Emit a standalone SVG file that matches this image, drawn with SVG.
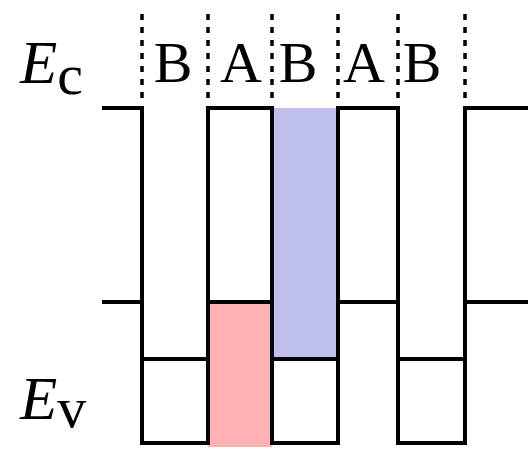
<svg xmlns="http://www.w3.org/2000/svg" width="530" height="453" viewBox="0 0 530 453">
<style>
.ln{fill:none;stroke:#000;stroke-width:4;stroke-linecap:square;stroke-linejoin:miter}
.dash{fill:none;stroke:#000;stroke-width:3.5;stroke-dasharray:6 7}
.t{font-family:"Liberation Serif",Tinos,"Nimbus Roman","Times New Roman",Times,"DejaVu Serif",serif;fill:#000}
</style>
<g id="fills">
<rect id="redwell" x="208" y="302" width="64" height="145" fill="#ffb0b0"/>
<rect id="bluewell" x="272" y="108" width="66" height="251" fill="#bfbfee"/>
</g>
<g id="dividers">
<line class="dash" x1="142" y1="14" x2="142" y2="102"/>
<line class="dash" x1="208" y1="14" x2="208" y2="102"/>
<line class="dash" x1="272" y1="14" x2="272" y2="102"/>
<line class="dash" x1="338" y1="14" x2="338" y2="102"/>
<line class="dash" x1="398" y1="14" x2="398" y2="102"/>
<line class="dash" x1="465" y1="14" x2="465" y2="102"/>
</g>
<g id="connectors">
<path class="ln" d="M104 108H142M208 108H272M338 108H398M465 108H526"/>
<path class="ln" d="M104 302H142M208 302H272M338 302H398M465 302H526"/>
<path class="ln" d="M142 359H208M272 359H338M398 359H465"/>
<path class="ln" d="M142 443H208M272 443H338M398 443H465"/>
<path class="ln" d="M142 108V443M208 108V443M272 108V443M338 108V443M398 108V443M465 108V443"/>
</g>
<g id="labels" font-size="58" text-anchor="middle">
<text class="t" x="173" y="82">B</text>
<text class="t" x="241" y="82">A</text>
<text class="t" x="298" y="82">B</text>
<text class="t" x="364" y="82">A</text>
<text class="t" x="422" y="82">B</text>
</g>
<g id="Ec"><text class="t" x="20" y="83"><tspan font-size="61" font-style="italic">E</tspan><tspan font-size="58" dy="11">c</tspan></text></g>
<g id="Ev"><text class="t" x="20" y="419"><tspan font-size="61" font-style="italic">E</tspan><tspan font-size="58" dy="8">v</tspan></text></g>
</svg>
